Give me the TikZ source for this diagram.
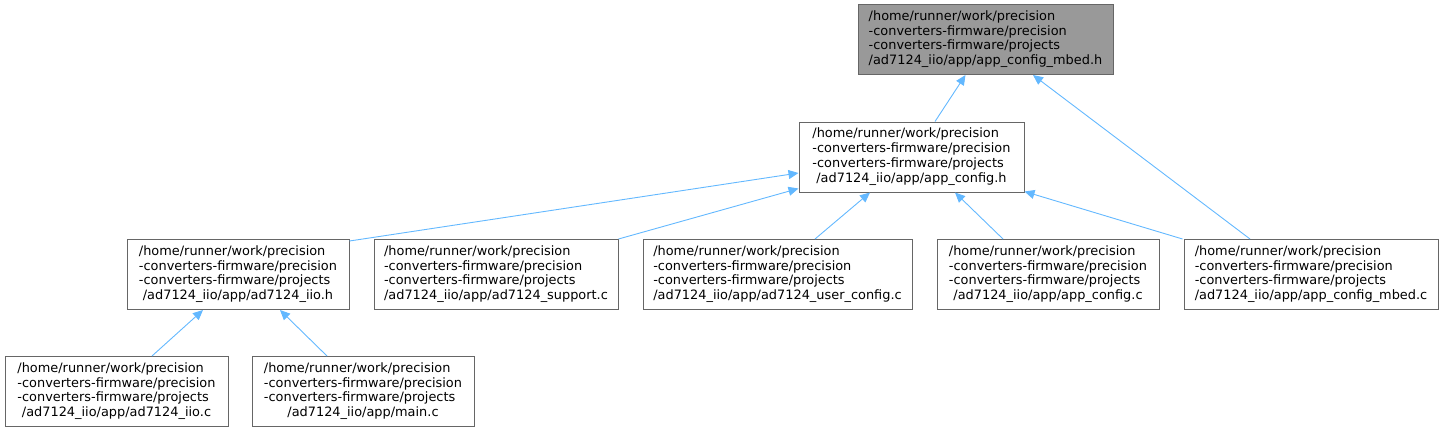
\documentclass[tikz,border=0pt]{standalone}
\usepackage{fontspec}
\setmainfont{DejaVu Sans}
\usepackage{tikz}
\usetikzlibrary{arrows.meta}
\definecolor{edgeblue}{RGB}{99,184,255}
\definecolor{rootgray}{RGB}{153,153,153}
\definecolor{framegray}{RGB}{102,102,102}

\newcommand{\fpath}[1]{\begin{tabular}{@{}l@{}}/home/runner/work/precision\\-converters-firmware/precision\\-converters-firmware/projects\\\multicolumn{1}{@{}c@{}}{/ad7124\_iio/app/#1}\end{tabular}}

\begin{document}
\begin{tikzpicture}[x=1pt, y=-1pt,
            filebox/.style={draw=framegray, line width=1pt, rectangle, fill=white, minimum height=70pt, inner sep=0pt, font=\fontsize{12.9}{14.8}\selectfont},
            incl/.style={{Triangle[length=10pt, width=9pt]}-, line width=0.9pt, edgeblue}
        ]
            \useasboundingbox (0,0) rectangle (1444,432);
            \node (mbedh) [filebox, fill=rootgray, minimum width=255pt] at (985.5,39.5) {\fpath{app\_config\_mbed.h}};
            \node (configh) [filebox, minimum width=225pt] at (911.5,157) {\fpath{app\_config.h}};
            \node (iioh) [filebox, minimum width=222pt] at (238,274.5) {\fpath{ad7124\_iio.h}};
            \node (support) [filebox, minimum width=244pt] at (496,274.5) {\fpath{ad7124\_support.c}};
            \node (userconf) [filebox, minimum width=269pt] at (777.5,274.5) {\fpath{ad7124\_user\_config.c}};
            \node (configc) [filebox, minimum width=222pt] at (1048,274.5) {\fpath{app\_config.c}};
            \node (mbedc) [filebox, minimum width=254pt] at (1311,274.5) {\fpath{app\_config\_mbed.c}};
            \node (iioc) [filebox, minimum width=223pt] at (116.5,391.5) {\fpath{ad7124\_iio.c}};
            \node (mainc) [filebox, minimum width=222pt] at (363,391.5) {\fpath{main.c}};

            \draw [incl] ([xshift=-20pt]mbedh.south) -- ([xshift=23.5pt]configh.north);
            \draw [incl] ([xshift=47.5pt]mbedh.south) -- ([xshift=-61pt]mbedc.north);
            \draw [incl] ([yshift=-16pt]configh.west) -- ([yshift=-2pt]iioh.north east);
            \draw [incl] ([yshift=4pt]configh.south west) -- (support.north east);
            \draw [incl] ([xshift=-41.5pt]configh.south) -- ([xshift=37.5pt]userconf.north);
            \draw [incl] ([xshift=43.5pt]configh.south) -- ([xshift=-45pt]configc.north);
            \draw [incl] ([yshift=1pt]configh.south east) -- ([xshift=-1pt]mbedc.north west);
            \draw [incl] ([xshift=-35pt]iioh.south) -- ([xshift=35.5pt]iioc.north);
            \draw [incl] ([xshift=42pt]iioh.south) -- ([xshift=-36pt]mainc.north);
        \end{tikzpicture}
\end{document}
